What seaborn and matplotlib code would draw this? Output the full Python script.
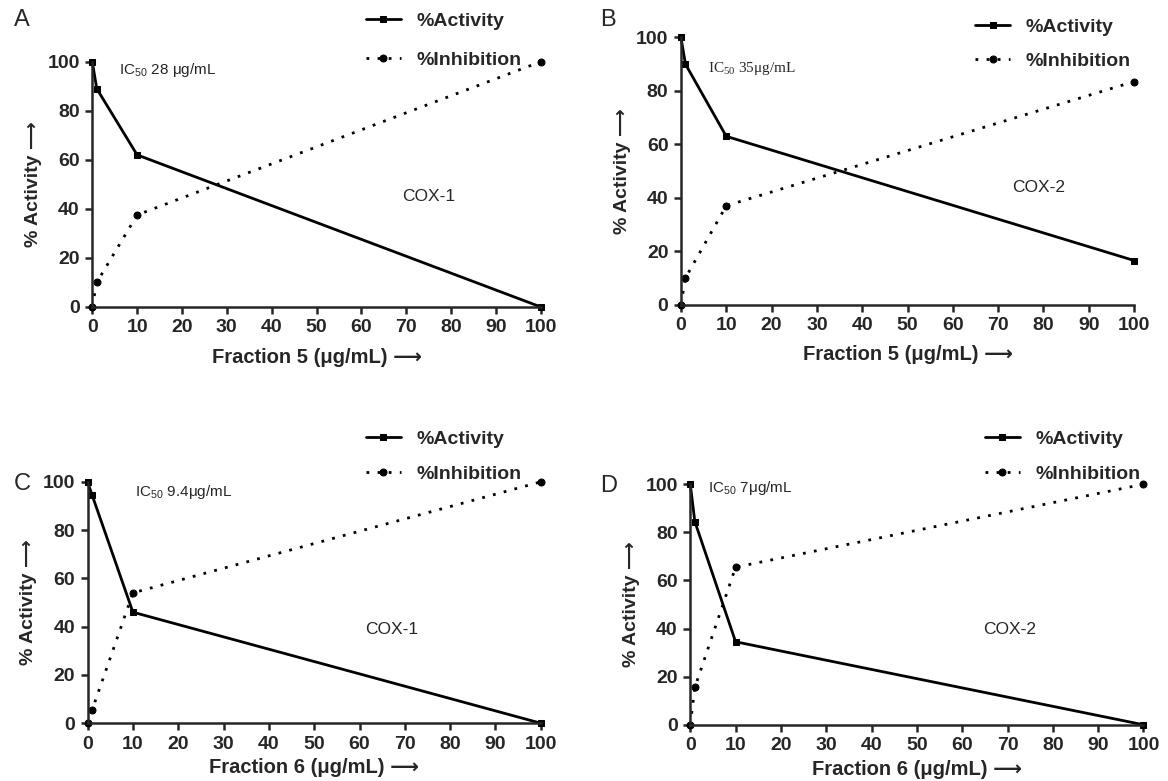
import matplotlib
matplotlib.use("Agg")
import matplotlib.pyplot as plt
import seaborn as sns
import pandas as pd

# concentrations tested (µg/mL)
conc = [0, 1, 10, 100]

# A: fraction 5, COX-1
act_a = [100, 89, 62, 0]
inh_a = [0, 10, 37.5, 100]
# B: fraction 5, COX-2
act_b = [100, 90, 63, 16.5]
inh_b = [0, 10, 37, 83.5]
# C: fraction 6, COX-1
act_c = [100, 94.5, 46, 0]
inh_c = [0, 5.5, 54, 100]
# D: fraction 6, COX-2
act_d = [100, 84.5, 34.5, 0]
inh_d = [0, 15.5, 65.5, 100]

letters = ["A", "B", "C", "D"]
enzymes = ["COX-1", "COX-2", "COX-1", "COX-2"]
ic50_texts = ["IC$_{50}$ 28 μg/mL", "IC$_{50}$ 35μg/mL", "IC$_{50}$ 9.4μg/mL", "IC$_{50}$ 7μg/mL"]
xlabels = ["Fraction 5 (μg/mL)", "Fraction 5 (μg/mL)", "Fraction 6 (μg/mL)", "Fraction 6 (μg/mL)"]
x_ticks = [0, 10, 20, 30, 40, 50, 60, 70, 80, 90, 100]
y_ticks = [0, 20, 40, 60, 80, 100]

sns.set_style("ticks")
plt.rcParams["font.family"] = ["Liberation Sans", "DejaVu Sans"]
plt.rcParams["mathtext.default"] = "regular"

FAM = ["Liberation Sans", "DejaVu Sans"]
LW = 2.0

fig = plt.figure(figsize=(11.68, 7.81), dpi=100)

# [left, bottom, width, height] per panel
positions = [
    [0.079, 0.607, 0.384, 0.314],
    [0.583, 0.610, 0.388, 0.342],
    [0.075, 0.074, 0.388, 0.309],
    [0.591, 0.072, 0.388, 0.308],
]
legend_anchor = [(0.313, 0.984), (0.835, 0.977), (0.313, 0.449), (0.843, 0.449)]
letter_pos = [(0.012, 0.988), (0.514, 0.988), (0.012, 0.394), (0.514, 0.392)]
ic50_pos = [(6, 96.5), (6, 88.5), (10.5, 96), (4, 98.5)]
ic50_family = [FAM, ["Liberation Serif", "DejaVu Serif"], FAM, FAM]
enzyme_pos = [(75, 45), (79, 44), (67, 39), (70.5, 39.5)]
xlabel_pad = [8, 8, 4, 4]
legend_gap = [1.1, 0.85, 0.9, 0.9]

activity = [act_a, act_b, act_c, act_d]
inhibition = [inh_a, inh_b, inh_c, inh_d]

for i in range(4):
    ax = fig.add_axes(positions[i])
    df = pd.DataFrame({"conc": conc, "act": activity[i], "inh": inhibition[i]})

    sns.lineplot(data=df, x="conc", y="act", ax=ax, color="black", lw=LW,
                 marker="s", markersize=5, markeredgecolor="black",
                 label="%Activity", clip_on=False)
    sns.lineplot(data=df, x="conc", y="inh", ax=ax, color="black", lw=LW,
                 linestyle=(0, (1, 3)), marker="o", markersize=5,
                 markeredgecolor="black", label="%Inhibition", clip_on=False)

    ax.set_xlim(0, 100)
    ax.set_ylim(0, 100)
    ax.set_xticks(x_ticks)
    ax.set_yticks(y_ticks)
    for lab in ax.get_xticklabels() + ax.get_yticklabels():
        lab.set_fontweight("bold")
        lab.set_fontsize(14)
    ax.tick_params(direction="out", length=5, width=1.8, pad=4)
    for s in ["left", "bottom"]:
        ax.spines[s].set_linewidth(1.8)
    sns.despine(ax=ax)

    ax.set_xlabel(xlabels[i] + " ⟶", fontsize=14.5, fontweight="bold", family=FAM,
                  labelpad=xlabel_pad[i])
    ax.set_ylabel("% Activity ⟶", fontsize=14, fontweight="bold", family=FAM, labelpad=4)

    ax.text(ic50_pos[i][0], ic50_pos[i][1], ic50_texts[i], fontsize=11,
            family=ic50_family[i], va="center", ha="left")
    ax.text(enzyme_pos[i][0], enzyme_pos[i][1], enzymes[i], fontsize=12.5,
            va="center", ha="center")

    ax.legend(loc="upper left", bbox_to_anchor=legend_anchor[i],
              bbox_transform=fig.transFigure, frameon=False, borderpad=0,
              borderaxespad=0, handlelength=1.8, handletextpad=0.8,
              labelspacing=legend_gap[i], prop={"weight": "bold", "size": 14})

    fig.text(letter_pos[i][0], letter_pos[i][1], letters[i], fontsize=17,
             va="top", ha="left")

fig.savefig("out.png", dpi=100)
